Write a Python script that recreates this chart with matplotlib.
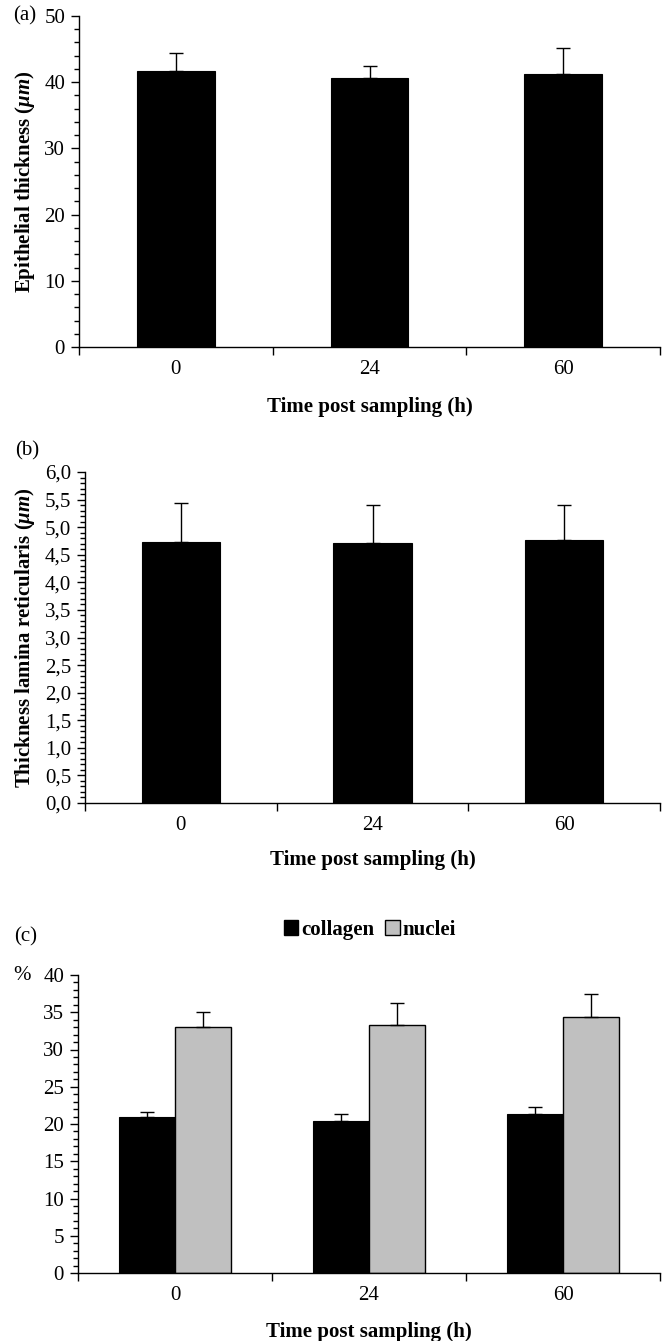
import matplotlib
matplotlib.use("Agg")
import matplotlib.pyplot as plt
from matplotlib.ticker import MultipleLocator, FuncFormatter
from matplotlib.patches import Patch

plt.rcParams['font.family'] = ['Liberation Serif', 'DejaVu Serif']
plt.rcParams['mathtext.fontset'] = 'custom'
plt.rcParams['mathtext.it'] = 'Liberation Serif:italic:bold'
plt.rcParams['mathtext.rm'] = 'Liberation Serif:bold'

# data
times = ['0', '24', '60']
epithelial = [41.7, 40.7, 41.3]
epithelial_err = [2.7, 1.8, 3.8]
lamina = [4.73, 4.72, 4.76]
lamina_err = [0.70, 0.68, 0.64]
collagen = [20.9, 20.4, 21.4]
collagen_err = [0.75, 1.0, 0.9]
nuclei = [33.0, 33.3, 34.4]
nuclei_err = [2.1, 3.0, 3.1]

W, H = 662, 1341
FS = 15
fig = plt.figure(figsize=(W / 100, H / 100), dpi=100)


def make_axes(left, right, top, bottom):
    return fig.add_axes([left / W, 1 - bottom / H, (right - left) / W, (bottom - top) / H])


def style_axes(ax, ymax, major, minor, fmt=None):
    n = len(times)
    ax.set_xlim(0, n)
    ax.set_ylim(0, ymax)
    ax.spines['top'].set_visible(False)
    ax.spines['right'].set_visible(False)
    for s in ['left', 'bottom']:
        ax.spines[s].set_linewidth(1.0)
    ax.set_xticks(range(n + 1))
    ax.set_xticklabels([])
    ax.set_xticks([i + 0.5 for i in range(n)], minor=True)
    ax.set_xticklabels(times, minor=True, fontsize=FS)
    ax.tick_params(axis='x', which='major', length=6, width=1.0, direction='out')
    ax.tick_params(axis='x', which='minor', length=0, pad=9)
    ax.yaxis.set_major_locator(MultipleLocator(major))
    ax.yaxis.set_minor_locator(MultipleLocator(minor))
    ax.tick_params(axis='y', which='major', length=6, width=1.0, direction='out', labelsize=FS, pad=4)
    ax.tick_params(axis='y', which='minor', length=3.5, width=1.0, direction='out')
    if fmt:
        ax.yaxis.set_major_formatter(FuncFormatter(fmt))
    ax.set_xlabel('Time post sampling (h)', fontsize=FS, fontweight='bold')


x = [i + 0.5 for i in range(len(times))]

# (a)
ax1 = make_axes(79, 660, 16, 347)
ax1.bar(x, epithelial, width=0.4, color='black', edgecolor='black', linewidth=0.8, zorder=2)
ax1.errorbar(x, epithelial, yerr=[[0] * 3, epithelial_err], fmt='none', ecolor='black',
             elinewidth=1.0, capsize=5, capthick=1.0, zorder=3)
style_axes(ax1, 50, 10, 2)
ax1.set_ylabel(r'Epithelial thickness ($\mu m$)', fontsize=FS, fontweight='bold')
ax1.yaxis.label.set_va('center')
ax1.yaxis.set_label_coords((25 - 79) / (660 - 79), 0.5)
ax1.xaxis.set_label_coords(0.5, -50 / 331)
fig.text(25 / W, 1 - 16 / H, '(a)', fontsize=FS, ha='center', va='center')

# (b)
ax2 = make_axes(85, 660, 472, 803)
ax2.bar(x, lamina, width=0.41, color='black', edgecolor='black', linewidth=0.8, zorder=2)
ax2.errorbar(x, lamina, yerr=[[0] * 3, lamina_err], fmt='none', ecolor='black',
             elinewidth=1.0, capsize=5, capthick=1.0, zorder=3)
style_axes(ax2, 6, 0.5, 0.1, fmt=lambda v, p: f'{v:.1f}'.replace('.', ','))
ax2.set_ylabel(r'Thickness lamina reticularis ($\mu m$)', fontsize=FS, fontweight='bold')
ax2.yaxis.label.set_va('center')
ax2.yaxis.set_label_coords((25 - 85) / (660 - 85), 0.5)
ax2.xaxis.set_label_coords(0.5, -47 / 331)
fig.text(27 / W, 1 - 451 / H, '(b)', fontsize=FS, ha='center', va='center')

# (c)
ax3 = make_axes(78, 660, 975, 1273)
bw = 0.29
xc = [i - bw / 2 for i in x]
xn = [i + bw / 2 for i in x]
ax3.bar(xc, collagen, width=bw, color='black', edgecolor='black', linewidth=0.8, zorder=2)
ax3.bar(xn, nuclei, width=bw, color='#c0c0c0', edgecolor='black', linewidth=1.0, zorder=2)
ax3.errorbar(xc, collagen, yerr=[[0] * 3, collagen_err], fmt='none', ecolor='black',
             elinewidth=1.0, capsize=5, capthick=1.0, zorder=3)
ax3.errorbar(xn, nuclei, yerr=[[0] * 3, nuclei_err], fmt='none', ecolor='black',
             elinewidth=1.0, capsize=5, capthick=1.0, zorder=3)
style_axes(ax3, 40, 5, 1)
ax3.xaxis.set_label_coords(0.5, -49 / 298)
fig.text(22 / W, 1 - 975 / H, '%', fontsize=FS, ha='center', va='center')
fig.text(26 / W, 1 - 937 / H, '(c)', fontsize=FS, ha='center', va='center')

handles = [Patch(facecolor='black', edgecolor='black', label='collagen'),
           Patch(facecolor='#c0c0c0', edgecolor='black', label='nuclei')]
fig.legend(handles=handles, loc='center', bbox_to_anchor=(370 / W, 1 - 930 / H), ncol=2,
           frameon=False, handlelength=0.7, handleheight=0.7, handletextpad=0.15,
           columnspacing=0.5, prop={'size': FS, 'weight': 'bold'})

fig.savefig('out.png', dpi=100)
